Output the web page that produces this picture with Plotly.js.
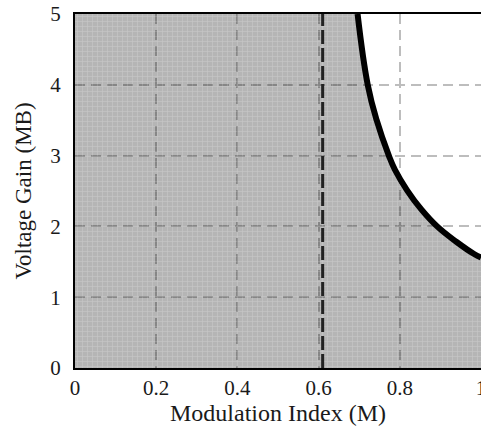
<!DOCTYPE html>
<html>
<head>
<meta charset="utf-8">
<script src="https://cdn.plot.ly/plotly-3.0.1.min.js"></script>
<style>
html,body{margin:0;padding:0;background:#fff;}
#chart{width:481px;height:429px;}
</style>
</head>
<body>
<div id="chart"></div>
<script>
// Data
const curveM    = [0.696, 0.721, 0.743, 0.773, 0.788, 0.818, 0.853, 0.892, 0.940, 0.983, 1.000];
const curveGain = [5.0,   4.0,   3.5,   3.0,   2.8,   2.51,  2.24,  2.0,   1.78,  1.61,  1.56];
const boundaryM = 0.61;           // thick dashed vertical line
const xRange = [0, 1.0];
const yRange = [0, 5];
const xTickVals = [0, 0.2, 0.4, 0.6, 0.8, 1];
const xTickText = ['0', '0.2', '0.4', '0.6', '0.8', '1'];
const yTickVals = [0, 1, 2, 3, 4, 5];
const yTickText = ['0', '1', '2', '3', '4', '5'];

const fillX = [xRange[0]].concat(curveM);
const fillY = [yRange[1]].concat(curveGain);

const serif = 'Liberation Serif, Times New Roman, serif';

const traces = [
  {
    x: fillX, y: fillY, type: 'scatter', mode: 'lines',
    fill: 'tozeroy', fillcolor: 'rgba(0,0,0,0.27)',
    fillpattern: {shape: '+', bgcolor: 'rgba(0,0,0,0.29)', fgcolor: 'rgba(255,255,255,0.22)', size: 5, solidity: 0.25},
    line: {width: 0, color: 'rgba(0,0,0,0)', shape: 'linear'},
    hoverinfo: 'skip', showlegend: false
  },
  {
    x: [boundaryM, boundaryM], y: yRange, type: 'scatter', mode: 'lines',
    line: {color: '#222', width: 3, dash: '14px,4px'},
    showlegend: false
  },
  {
    x: curveM, y: curveGain, type: 'scatter', mode: 'lines',
    line: {color: '#000', width: 6, shape: 'spline', smoothing: 1.2},
    showlegend: false
  }
];

const layout = {
  width: 481, height: 429,
  margin: {l: 75, r: 0, t: 14, b: 61},
  paper_bgcolor: '#fff', plot_bgcolor: '#fff',
  font: {family: serif, color: '#1a1a1a', size: 20},
  showlegend: false,
  xaxis: {
    range: xRange, tickvals: xTickVals, ticktext: xTickText,
    showgrid: true, gridcolor: '#bdbdbd', gridwidth: 2, griddash: '10px,6px',
    zeroline: false, showline: true, linecolor: '#000', linewidth: 2, mirror: true,
    ticks: '', ticklabelstandoff: 0, ticklabeloverflow: 'allow',
    tickfont: {family: serif, size: 21, color: '#1a1a1a'},
    title: {text: 'Modulation Index (M)', font: {family: serif, size: 24, color: '#1a1a1a'}, standoff: 4}
  },
  yaxis: {
    range: yRange, tickvals: yTickVals, ticktext: yTickText,
    showgrid: true, gridcolor: '#bdbdbd', gridwidth: 2, griddash: '10px,6px',
    zeroline: false, showline: true, linecolor: '#000', linewidth: 2, mirror: false,
    ticks: '', ticklabelstandoff: 8,
    tickfont: {family: serif, size: 21, color: '#1a1a1a'},
    title: {text: 'Voltage Gain (MB)', font: {family: serif, size: 23, color: '#1a1a1a'}, standoff: 12}
  }
};

Plotly.newPlot('chart', traces, layout, {displayModeBar: false, staticPlot: true});
</script>
</body>
</html>
